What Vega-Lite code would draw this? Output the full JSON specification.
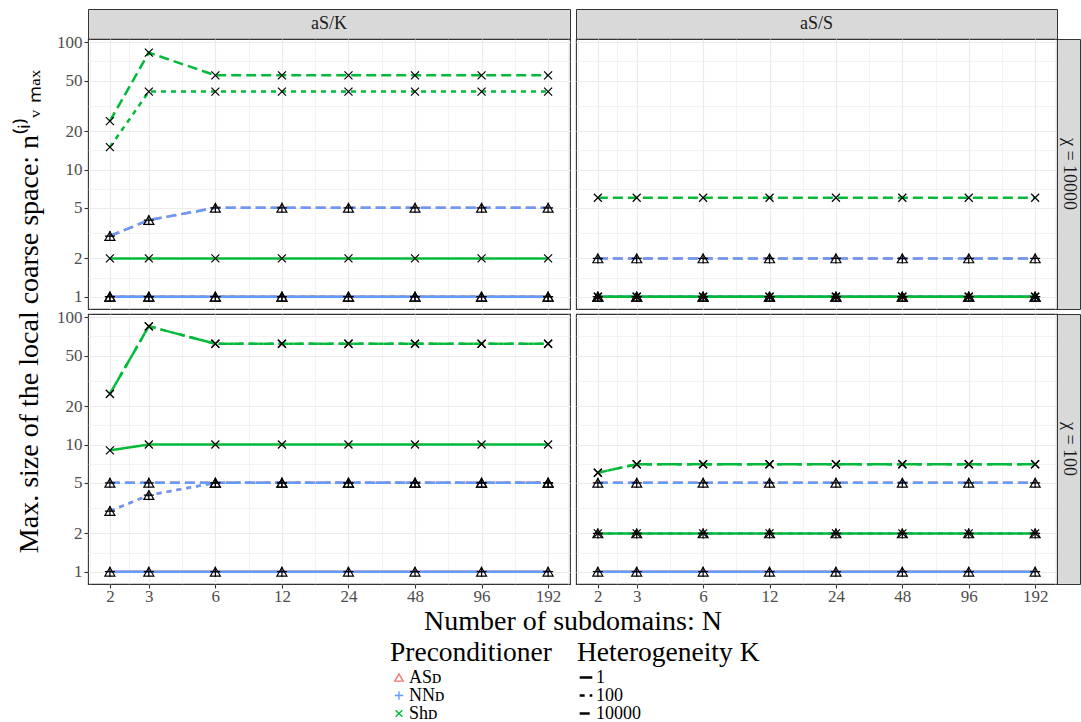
{
"$schema": "https://vega.github.io/schema/vega-lite/v6.json",
"background": "white",
"padding": {"left": 0, "top": 8, "right": 0, "bottom": 0},
"config": {
  "font": "Liberation Serif",
  "view": {"stroke": "#333333", "strokeWidth": 1.1},
  "legend": {"titleFont": "Liberation Serif", "labelFont": "Liberation Serif", "titleFontSize": 27.5, "titleLimit": 400, "titleFontWeight": "normal", "titleColor": "black", "labelFontSize": 18, "labelColor": "black", "rowPadding": 0, "titlePadding": 2, "labelOffset": 1}
},
"datasets": {"pts": [
{"col":"aS/K","row":"10000","prec":"ASᴅ","K":"1","N":2,"nv":1},{"col":"aS/K","row":"10000","prec":"ASᴅ","K":"1","N":3,"nv":1},{"col":"aS/K","row":"10000","prec":"ASᴅ","K":"1","N":6,"nv":1},{"col":"aS/K","row":"10000","prec":"ASᴅ","K":"1","N":12,"nv":1},{"col":"aS/K","row":"10000","prec":"ASᴅ","K":"1","N":24,"nv":1},{"col":"aS/K","row":"10000","prec":"ASᴅ","K":"1","N":48,"nv":1},{"col":"aS/K","row":"10000","prec":"ASᴅ","K":"1","N":96,"nv":1},{"col":"aS/K","row":"10000","prec":"ASᴅ","K":"1","N":192,"nv":1},
{"col":"aS/K","row":"10000","prec":"ASᴅ","K":"100","N":2,"nv":1},{"col":"aS/K","row":"10000","prec":"ASᴅ","K":"100","N":3,"nv":1},{"col":"aS/K","row":"10000","prec":"ASᴅ","K":"100","N":6,"nv":1},{"col":"aS/K","row":"10000","prec":"ASᴅ","K":"100","N":12,"nv":1},{"col":"aS/K","row":"10000","prec":"ASᴅ","K":"100","N":24,"nv":1},{"col":"aS/K","row":"10000","prec":"ASᴅ","K":"100","N":48,"nv":1},{"col":"aS/K","row":"10000","prec":"ASᴅ","K":"100","N":96,"nv":1},{"col":"aS/K","row":"10000","prec":"ASᴅ","K":"100","N":192,"nv":1},
{"col":"aS/K","row":"10000","prec":"ASᴅ","K":"10000","N":2,"nv":3},{"col":"aS/K","row":"10000","prec":"ASᴅ","K":"10000","N":3,"nv":4},{"col":"aS/K","row":"10000","prec":"ASᴅ","K":"10000","N":6,"nv":5},{"col":"aS/K","row":"10000","prec":"ASᴅ","K":"10000","N":12,"nv":5},{"col":"aS/K","row":"10000","prec":"ASᴅ","K":"10000","N":24,"nv":5},{"col":"aS/K","row":"10000","prec":"ASᴅ","K":"10000","N":48,"nv":5},{"col":"aS/K","row":"10000","prec":"ASᴅ","K":"10000","N":96,"nv":5},{"col":"aS/K","row":"10000","prec":"ASᴅ","K":"10000","N":192,"nv":5},
{"col":"aS/K","row":"10000","prec":"NNᴅ","K":"1","N":2,"nv":1},{"col":"aS/K","row":"10000","prec":"NNᴅ","K":"1","N":3,"nv":1},{"col":"aS/K","row":"10000","prec":"NNᴅ","K":"1","N":6,"nv":1},{"col":"aS/K","row":"10000","prec":"NNᴅ","K":"1","N":12,"nv":1},{"col":"aS/K","row":"10000","prec":"NNᴅ","K":"1","N":24,"nv":1},{"col":"aS/K","row":"10000","prec":"NNᴅ","K":"1","N":48,"nv":1},{"col":"aS/K","row":"10000","prec":"NNᴅ","K":"1","N":96,"nv":1},{"col":"aS/K","row":"10000","prec":"NNᴅ","K":"1","N":192,"nv":1},
{"col":"aS/K","row":"10000","prec":"NNᴅ","K":"100","N":2,"nv":1},{"col":"aS/K","row":"10000","prec":"NNᴅ","K":"100","N":3,"nv":1},{"col":"aS/K","row":"10000","prec":"NNᴅ","K":"100","N":6,"nv":1},{"col":"aS/K","row":"10000","prec":"NNᴅ","K":"100","N":12,"nv":1},{"col":"aS/K","row":"10000","prec":"NNᴅ","K":"100","N":24,"nv":1},{"col":"aS/K","row":"10000","prec":"NNᴅ","K":"100","N":48,"nv":1},{"col":"aS/K","row":"10000","prec":"NNᴅ","K":"100","N":96,"nv":1},{"col":"aS/K","row":"10000","prec":"NNᴅ","K":"100","N":192,"nv":1},
{"col":"aS/K","row":"10000","prec":"NNᴅ","K":"10000","N":2,"nv":3},{"col":"aS/K","row":"10000","prec":"NNᴅ","K":"10000","N":3,"nv":4},{"col":"aS/K","row":"10000","prec":"NNᴅ","K":"10000","N":6,"nv":5},{"col":"aS/K","row":"10000","prec":"NNᴅ","K":"10000","N":12,"nv":5},{"col":"aS/K","row":"10000","prec":"NNᴅ","K":"10000","N":24,"nv":5},{"col":"aS/K","row":"10000","prec":"NNᴅ","K":"10000","N":48,"nv":5},{"col":"aS/K","row":"10000","prec":"NNᴅ","K":"10000","N":96,"nv":5},{"col":"aS/K","row":"10000","prec":"NNᴅ","K":"10000","N":192,"nv":5},
{"col":"aS/K","row":"10000","prec":"Shᴅ","K":"1","N":2,"nv":2},{"col":"aS/K","row":"10000","prec":"Shᴅ","K":"1","N":3,"nv":2},{"col":"aS/K","row":"10000","prec":"Shᴅ","K":"1","N":6,"nv":2},{"col":"aS/K","row":"10000","prec":"Shᴅ","K":"1","N":12,"nv":2},{"col":"aS/K","row":"10000","prec":"Shᴅ","K":"1","N":24,"nv":2},{"col":"aS/K","row":"10000","prec":"Shᴅ","K":"1","N":48,"nv":2},{"col":"aS/K","row":"10000","prec":"Shᴅ","K":"1","N":96,"nv":2},{"col":"aS/K","row":"10000","prec":"Shᴅ","K":"1","N":192,"nv":2},
{"col":"aS/K","row":"10000","prec":"Shᴅ","K":"100","N":2,"nv":15},{"col":"aS/K","row":"10000","prec":"Shᴅ","K":"100","N":3,"nv":41},{"col":"aS/K","row":"10000","prec":"Shᴅ","K":"100","N":6,"nv":41},{"col":"aS/K","row":"10000","prec":"Shᴅ","K":"100","N":12,"nv":41},{"col":"aS/K","row":"10000","prec":"Shᴅ","K":"100","N":24,"nv":41},{"col":"aS/K","row":"10000","prec":"Shᴅ","K":"100","N":48,"nv":41},{"col":"aS/K","row":"10000","prec":"Shᴅ","K":"100","N":96,"nv":41},{"col":"aS/K","row":"10000","prec":"Shᴅ","K":"100","N":192,"nv":41},
{"col":"aS/K","row":"10000","prec":"Shᴅ","K":"10000","N":2,"nv":24},{"col":"aS/K","row":"10000","prec":"Shᴅ","K":"10000","N":3,"nv":83},{"col":"aS/K","row":"10000","prec":"Shᴅ","K":"10000","N":6,"nv":55},{"col":"aS/K","row":"10000","prec":"Shᴅ","K":"10000","N":12,"nv":55},{"col":"aS/K","row":"10000","prec":"Shᴅ","K":"10000","N":24,"nv":55},{"col":"aS/K","row":"10000","prec":"Shᴅ","K":"10000","N":48,"nv":55},{"col":"aS/K","row":"10000","prec":"Shᴅ","K":"10000","N":96,"nv":55},{"col":"aS/K","row":"10000","prec":"Shᴅ","K":"10000","N":192,"nv":55},

{"col":"aS/S","row":"10000","prec":"ASᴅ","K":"1","N":2,"nv":1},{"col":"aS/S","row":"10000","prec":"ASᴅ","K":"1","N":3,"nv":1},{"col":"aS/S","row":"10000","prec":"ASᴅ","K":"1","N":6,"nv":1},{"col":"aS/S","row":"10000","prec":"ASᴅ","K":"1","N":12,"nv":1},{"col":"aS/S","row":"10000","prec":"ASᴅ","K":"1","N":24,"nv":1},{"col":"aS/S","row":"10000","prec":"ASᴅ","K":"1","N":48,"nv":1},{"col":"aS/S","row":"10000","prec":"ASᴅ","K":"1","N":96,"nv":1},{"col":"aS/S","row":"10000","prec":"ASᴅ","K":"1","N":192,"nv":1},
{"col":"aS/S","row":"10000","prec":"ASᴅ","K":"100","N":2,"nv":1},{"col":"aS/S","row":"10000","prec":"ASᴅ","K":"100","N":3,"nv":1},{"col":"aS/S","row":"10000","prec":"ASᴅ","K":"100","N":6,"nv":1},{"col":"aS/S","row":"10000","prec":"ASᴅ","K":"100","N":12,"nv":1},{"col":"aS/S","row":"10000","prec":"ASᴅ","K":"100","N":24,"nv":1},{"col":"aS/S","row":"10000","prec":"ASᴅ","K":"100","N":48,"nv":1},{"col":"aS/S","row":"10000","prec":"ASᴅ","K":"100","N":96,"nv":1},{"col":"aS/S","row":"10000","prec":"ASᴅ","K":"100","N":192,"nv":1},
{"col":"aS/S","row":"10000","prec":"ASᴅ","K":"10000","N":2,"nv":2},{"col":"aS/S","row":"10000","prec":"ASᴅ","K":"10000","N":3,"nv":2},{"col":"aS/S","row":"10000","prec":"ASᴅ","K":"10000","N":6,"nv":2},{"col":"aS/S","row":"10000","prec":"ASᴅ","K":"10000","N":12,"nv":2},{"col":"aS/S","row":"10000","prec":"ASᴅ","K":"10000","N":24,"nv":2},{"col":"aS/S","row":"10000","prec":"ASᴅ","K":"10000","N":48,"nv":2},{"col":"aS/S","row":"10000","prec":"ASᴅ","K":"10000","N":96,"nv":2},{"col":"aS/S","row":"10000","prec":"ASᴅ","K":"10000","N":192,"nv":2},
{"col":"aS/S","row":"10000","prec":"NNᴅ","K":"1","N":2,"nv":1},{"col":"aS/S","row":"10000","prec":"NNᴅ","K":"1","N":3,"nv":1},{"col":"aS/S","row":"10000","prec":"NNᴅ","K":"1","N":6,"nv":1},{"col":"aS/S","row":"10000","prec":"NNᴅ","K":"1","N":12,"nv":1},{"col":"aS/S","row":"10000","prec":"NNᴅ","K":"1","N":24,"nv":1},{"col":"aS/S","row":"10000","prec":"NNᴅ","K":"1","N":48,"nv":1},{"col":"aS/S","row":"10000","prec":"NNᴅ","K":"1","N":96,"nv":1},{"col":"aS/S","row":"10000","prec":"NNᴅ","K":"1","N":192,"nv":1},
{"col":"aS/S","row":"10000","prec":"NNᴅ","K":"100","N":2,"nv":1},{"col":"aS/S","row":"10000","prec":"NNᴅ","K":"100","N":3,"nv":1},{"col":"aS/S","row":"10000","prec":"NNᴅ","K":"100","N":6,"nv":1},{"col":"aS/S","row":"10000","prec":"NNᴅ","K":"100","N":12,"nv":1},{"col":"aS/S","row":"10000","prec":"NNᴅ","K":"100","N":24,"nv":1},{"col":"aS/S","row":"10000","prec":"NNᴅ","K":"100","N":48,"nv":1},{"col":"aS/S","row":"10000","prec":"NNᴅ","K":"100","N":96,"nv":1},{"col":"aS/S","row":"10000","prec":"NNᴅ","K":"100","N":192,"nv":1},
{"col":"aS/S","row":"10000","prec":"NNᴅ","K":"10000","N":2,"nv":2},{"col":"aS/S","row":"10000","prec":"NNᴅ","K":"10000","N":3,"nv":2},{"col":"aS/S","row":"10000","prec":"NNᴅ","K":"10000","N":6,"nv":2},{"col":"aS/S","row":"10000","prec":"NNᴅ","K":"10000","N":12,"nv":2},{"col":"aS/S","row":"10000","prec":"NNᴅ","K":"10000","N":24,"nv":2},{"col":"aS/S","row":"10000","prec":"NNᴅ","K":"10000","N":48,"nv":2},{"col":"aS/S","row":"10000","prec":"NNᴅ","K":"10000","N":96,"nv":2},{"col":"aS/S","row":"10000","prec":"NNᴅ","K":"10000","N":192,"nv":2},
{"col":"aS/S","row":"10000","prec":"Shᴅ","K":"1","N":2,"nv":1},{"col":"aS/S","row":"10000","prec":"Shᴅ","K":"1","N":3,"nv":1},{"col":"aS/S","row":"10000","prec":"Shᴅ","K":"1","N":6,"nv":1},{"col":"aS/S","row":"10000","prec":"Shᴅ","K":"1","N":12,"nv":1},{"col":"aS/S","row":"10000","prec":"Shᴅ","K":"1","N":24,"nv":1},{"col":"aS/S","row":"10000","prec":"Shᴅ","K":"1","N":48,"nv":1},{"col":"aS/S","row":"10000","prec":"Shᴅ","K":"1","N":96,"nv":1},{"col":"aS/S","row":"10000","prec":"Shᴅ","K":"1","N":192,"nv":1},
{"col":"aS/S","row":"10000","prec":"Shᴅ","K":"100","N":2,"nv":1},{"col":"aS/S","row":"10000","prec":"Shᴅ","K":"100","N":3,"nv":1},{"col":"aS/S","row":"10000","prec":"Shᴅ","K":"100","N":6,"nv":1},{"col":"aS/S","row":"10000","prec":"Shᴅ","K":"100","N":12,"nv":1},{"col":"aS/S","row":"10000","prec":"Shᴅ","K":"100","N":24,"nv":1},{"col":"aS/S","row":"10000","prec":"Shᴅ","K":"100","N":48,"nv":1},{"col":"aS/S","row":"10000","prec":"Shᴅ","K":"100","N":96,"nv":1},{"col":"aS/S","row":"10000","prec":"Shᴅ","K":"100","N":192,"nv":1},
{"col":"aS/S","row":"10000","prec":"Shᴅ","K":"10000","N":2,"nv":6},{"col":"aS/S","row":"10000","prec":"Shᴅ","K":"10000","N":3,"nv":6},{"col":"aS/S","row":"10000","prec":"Shᴅ","K":"10000","N":6,"nv":6},{"col":"aS/S","row":"10000","prec":"Shᴅ","K":"10000","N":12,"nv":6},{"col":"aS/S","row":"10000","prec":"Shᴅ","K":"10000","N":24,"nv":6},{"col":"aS/S","row":"10000","prec":"Shᴅ","K":"10000","N":48,"nv":6},{"col":"aS/S","row":"10000","prec":"Shᴅ","K":"10000","N":96,"nv":6},{"col":"aS/S","row":"10000","prec":"Shᴅ","K":"10000","N":192,"nv":6},

{"col":"aS/K","row":"100","prec":"ASᴅ","K":"1","N":2,"nv":1},{"col":"aS/K","row":"100","prec":"ASᴅ","K":"1","N":3,"nv":1},{"col":"aS/K","row":"100","prec":"ASᴅ","K":"1","N":6,"nv":1},{"col":"aS/K","row":"100","prec":"ASᴅ","K":"1","N":12,"nv":1},{"col":"aS/K","row":"100","prec":"ASᴅ","K":"1","N":24,"nv":1},{"col":"aS/K","row":"100","prec":"ASᴅ","K":"1","N":48,"nv":1},{"col":"aS/K","row":"100","prec":"ASᴅ","K":"1","N":96,"nv":1},{"col":"aS/K","row":"100","prec":"ASᴅ","K":"1","N":192,"nv":1},
{"col":"aS/K","row":"100","prec":"ASᴅ","K":"100","N":2,"nv":3},{"col":"aS/K","row":"100","prec":"ASᴅ","K":"100","N":3,"nv":4},{"col":"aS/K","row":"100","prec":"ASᴅ","K":"100","N":6,"nv":5},{"col":"aS/K","row":"100","prec":"ASᴅ","K":"100","N":12,"nv":5},{"col":"aS/K","row":"100","prec":"ASᴅ","K":"100","N":24,"nv":5},{"col":"aS/K","row":"100","prec":"ASᴅ","K":"100","N":48,"nv":5},{"col":"aS/K","row":"100","prec":"ASᴅ","K":"100","N":96,"nv":5},{"col":"aS/K","row":"100","prec":"ASᴅ","K":"100","N":192,"nv":5},
{"col":"aS/K","row":"100","prec":"ASᴅ","K":"10000","N":2,"nv":5},{"col":"aS/K","row":"100","prec":"ASᴅ","K":"10000","N":3,"nv":5},{"col":"aS/K","row":"100","prec":"ASᴅ","K":"10000","N":6,"nv":5},{"col":"aS/K","row":"100","prec":"ASᴅ","K":"10000","N":12,"nv":5},{"col":"aS/K","row":"100","prec":"ASᴅ","K":"10000","N":24,"nv":5},{"col":"aS/K","row":"100","prec":"ASᴅ","K":"10000","N":48,"nv":5},{"col":"aS/K","row":"100","prec":"ASᴅ","K":"10000","N":96,"nv":5},{"col":"aS/K","row":"100","prec":"ASᴅ","K":"10000","N":192,"nv":5},
{"col":"aS/K","row":"100","prec":"NNᴅ","K":"1","N":2,"nv":1},{"col":"aS/K","row":"100","prec":"NNᴅ","K":"1","N":3,"nv":1},{"col":"aS/K","row":"100","prec":"NNᴅ","K":"1","N":6,"nv":1},{"col":"aS/K","row":"100","prec":"NNᴅ","K":"1","N":12,"nv":1},{"col":"aS/K","row":"100","prec":"NNᴅ","K":"1","N":24,"nv":1},{"col":"aS/K","row":"100","prec":"NNᴅ","K":"1","N":48,"nv":1},{"col":"aS/K","row":"100","prec":"NNᴅ","K":"1","N":96,"nv":1},{"col":"aS/K","row":"100","prec":"NNᴅ","K":"1","N":192,"nv":1},
{"col":"aS/K","row":"100","prec":"NNᴅ","K":"100","N":2,"nv":3},{"col":"aS/K","row":"100","prec":"NNᴅ","K":"100","N":3,"nv":4},{"col":"aS/K","row":"100","prec":"NNᴅ","K":"100","N":6,"nv":5},{"col":"aS/K","row":"100","prec":"NNᴅ","K":"100","N":12,"nv":5},{"col":"aS/K","row":"100","prec":"NNᴅ","K":"100","N":24,"nv":5},{"col":"aS/K","row":"100","prec":"NNᴅ","K":"100","N":48,"nv":5},{"col":"aS/K","row":"100","prec":"NNᴅ","K":"100","N":96,"nv":5},{"col":"aS/K","row":"100","prec":"NNᴅ","K":"100","N":192,"nv":5},
{"col":"aS/K","row":"100","prec":"NNᴅ","K":"10000","N":2,"nv":5},{"col":"aS/K","row":"100","prec":"NNᴅ","K":"10000","N":3,"nv":5},{"col":"aS/K","row":"100","prec":"NNᴅ","K":"10000","N":6,"nv":5},{"col":"aS/K","row":"100","prec":"NNᴅ","K":"10000","N":12,"nv":5},{"col":"aS/K","row":"100","prec":"NNᴅ","K":"10000","N":24,"nv":5},{"col":"aS/K","row":"100","prec":"NNᴅ","K":"10000","N":48,"nv":5},{"col":"aS/K","row":"100","prec":"NNᴅ","K":"10000","N":96,"nv":5},{"col":"aS/K","row":"100","prec":"NNᴅ","K":"10000","N":192,"nv":5},
{"col":"aS/K","row":"100","prec":"Shᴅ","K":"1","N":2,"nv":9},{"col":"aS/K","row":"100","prec":"Shᴅ","K":"1","N":3,"nv":10},{"col":"aS/K","row":"100","prec":"Shᴅ","K":"1","N":6,"nv":10},{"col":"aS/K","row":"100","prec":"Shᴅ","K":"1","N":12,"nv":10},{"col":"aS/K","row":"100","prec":"Shᴅ","K":"1","N":24,"nv":10},{"col":"aS/K","row":"100","prec":"Shᴅ","K":"1","N":48,"nv":10},{"col":"aS/K","row":"100","prec":"Shᴅ","K":"1","N":96,"nv":10},{"col":"aS/K","row":"100","prec":"Shᴅ","K":"1","N":192,"nv":10},
{"col":"aS/K","row":"100","prec":"Shᴅ","K":"100","N":2,"nv":25},{"col":"aS/K","row":"100","prec":"Shᴅ","K":"100","N":3,"nv":85},{"col":"aS/K","row":"100","prec":"Shᴅ","K":"100","N":6,"nv":62},{"col":"aS/K","row":"100","prec":"Shᴅ","K":"100","N":12,"nv":62},{"col":"aS/K","row":"100","prec":"Shᴅ","K":"100","N":24,"nv":62},{"col":"aS/K","row":"100","prec":"Shᴅ","K":"100","N":48,"nv":62},{"col":"aS/K","row":"100","prec":"Shᴅ","K":"100","N":96,"nv":62},{"col":"aS/K","row":"100","prec":"Shᴅ","K":"100","N":192,"nv":62},
{"col":"aS/K","row":"100","prec":"Shᴅ","K":"10000","N":2,"nv":25},{"col":"aS/K","row":"100","prec":"Shᴅ","K":"10000","N":3,"nv":85},{"col":"aS/K","row":"100","prec":"Shᴅ","K":"10000","N":6,"nv":62},{"col":"aS/K","row":"100","prec":"Shᴅ","K":"10000","N":12,"nv":62},{"col":"aS/K","row":"100","prec":"Shᴅ","K":"10000","N":24,"nv":62},{"col":"aS/K","row":"100","prec":"Shᴅ","K":"10000","N":48,"nv":62},{"col":"aS/K","row":"100","prec":"Shᴅ","K":"10000","N":96,"nv":62},{"col":"aS/K","row":"100","prec":"Shᴅ","K":"10000","N":192,"nv":62},

{"col":"aS/S","row":"100","prec":"ASᴅ","K":"1","N":2,"nv":1},{"col":"aS/S","row":"100","prec":"ASᴅ","K":"1","N":3,"nv":1},{"col":"aS/S","row":"100","prec":"ASᴅ","K":"1","N":6,"nv":1},{"col":"aS/S","row":"100","prec":"ASᴅ","K":"1","N":12,"nv":1},{"col":"aS/S","row":"100","prec":"ASᴅ","K":"1","N":24,"nv":1},{"col":"aS/S","row":"100","prec":"ASᴅ","K":"1","N":48,"nv":1},{"col":"aS/S","row":"100","prec":"ASᴅ","K":"1","N":96,"nv":1},{"col":"aS/S","row":"100","prec":"ASᴅ","K":"1","N":192,"nv":1},
{"col":"aS/S","row":"100","prec":"ASᴅ","K":"100","N":2,"nv":2},{"col":"aS/S","row":"100","prec":"ASᴅ","K":"100","N":3,"nv":2},{"col":"aS/S","row":"100","prec":"ASᴅ","K":"100","N":6,"nv":2},{"col":"aS/S","row":"100","prec":"ASᴅ","K":"100","N":12,"nv":2},{"col":"aS/S","row":"100","prec":"ASᴅ","K":"100","N":24,"nv":2},{"col":"aS/S","row":"100","prec":"ASᴅ","K":"100","N":48,"nv":2},{"col":"aS/S","row":"100","prec":"ASᴅ","K":"100","N":96,"nv":2},{"col":"aS/S","row":"100","prec":"ASᴅ","K":"100","N":192,"nv":2},
{"col":"aS/S","row":"100","prec":"ASᴅ","K":"10000","N":2,"nv":5},{"col":"aS/S","row":"100","prec":"ASᴅ","K":"10000","N":3,"nv":5},{"col":"aS/S","row":"100","prec":"ASᴅ","K":"10000","N":6,"nv":5},{"col":"aS/S","row":"100","prec":"ASᴅ","K":"10000","N":12,"nv":5},{"col":"aS/S","row":"100","prec":"ASᴅ","K":"10000","N":24,"nv":5},{"col":"aS/S","row":"100","prec":"ASᴅ","K":"10000","N":48,"nv":5},{"col":"aS/S","row":"100","prec":"ASᴅ","K":"10000","N":96,"nv":5},{"col":"aS/S","row":"100","prec":"ASᴅ","K":"10000","N":192,"nv":5},
{"col":"aS/S","row":"100","prec":"NNᴅ","K":"1","N":2,"nv":1},{"col":"aS/S","row":"100","prec":"NNᴅ","K":"1","N":3,"nv":1},{"col":"aS/S","row":"100","prec":"NNᴅ","K":"1","N":6,"nv":1},{"col":"aS/S","row":"100","prec":"NNᴅ","K":"1","N":12,"nv":1},{"col":"aS/S","row":"100","prec":"NNᴅ","K":"1","N":24,"nv":1},{"col":"aS/S","row":"100","prec":"NNᴅ","K":"1","N":48,"nv":1},{"col":"aS/S","row":"100","prec":"NNᴅ","K":"1","N":96,"nv":1},{"col":"aS/S","row":"100","prec":"NNᴅ","K":"1","N":192,"nv":1},
{"col":"aS/S","row":"100","prec":"NNᴅ","K":"100","N":2,"nv":2},{"col":"aS/S","row":"100","prec":"NNᴅ","K":"100","N":3,"nv":2},{"col":"aS/S","row":"100","prec":"NNᴅ","K":"100","N":6,"nv":2},{"col":"aS/S","row":"100","prec":"NNᴅ","K":"100","N":12,"nv":2},{"col":"aS/S","row":"100","prec":"NNᴅ","K":"100","N":24,"nv":2},{"col":"aS/S","row":"100","prec":"NNᴅ","K":"100","N":48,"nv":2},{"col":"aS/S","row":"100","prec":"NNᴅ","K":"100","N":96,"nv":2},{"col":"aS/S","row":"100","prec":"NNᴅ","K":"100","N":192,"nv":2},
{"col":"aS/S","row":"100","prec":"NNᴅ","K":"10000","N":2,"nv":5},{"col":"aS/S","row":"100","prec":"NNᴅ","K":"10000","N":3,"nv":5},{"col":"aS/S","row":"100","prec":"NNᴅ","K":"10000","N":6,"nv":5},{"col":"aS/S","row":"100","prec":"NNᴅ","K":"10000","N":12,"nv":5},{"col":"aS/S","row":"100","prec":"NNᴅ","K":"10000","N":24,"nv":5},{"col":"aS/S","row":"100","prec":"NNᴅ","K":"10000","N":48,"nv":5},{"col":"aS/S","row":"100","prec":"NNᴅ","K":"10000","N":96,"nv":5},{"col":"aS/S","row":"100","prec":"NNᴅ","K":"10000","N":192,"nv":5},
{"col":"aS/S","row":"100","prec":"Shᴅ","K":"1","N":2,"nv":2},{"col":"aS/S","row":"100","prec":"Shᴅ","K":"1","N":3,"nv":2},{"col":"aS/S","row":"100","prec":"Shᴅ","K":"1","N":6,"nv":2},{"col":"aS/S","row":"100","prec":"Shᴅ","K":"1","N":12,"nv":2},{"col":"aS/S","row":"100","prec":"Shᴅ","K":"1","N":24,"nv":2},{"col":"aS/S","row":"100","prec":"Shᴅ","K":"1","N":48,"nv":2},{"col":"aS/S","row":"100","prec":"Shᴅ","K":"1","N":96,"nv":2},{"col":"aS/S","row":"100","prec":"Shᴅ","K":"1","N":192,"nv":2},
{"col":"aS/S","row":"100","prec":"Shᴅ","K":"100","N":2,"nv":6},{"col":"aS/S","row":"100","prec":"Shᴅ","K":"100","N":3,"nv":7},{"col":"aS/S","row":"100","prec":"Shᴅ","K":"100","N":6,"nv":7},{"col":"aS/S","row":"100","prec":"Shᴅ","K":"100","N":12,"nv":7},{"col":"aS/S","row":"100","prec":"Shᴅ","K":"100","N":24,"nv":7},{"col":"aS/S","row":"100","prec":"Shᴅ","K":"100","N":48,"nv":7},{"col":"aS/S","row":"100","prec":"Shᴅ","K":"100","N":96,"nv":7},{"col":"aS/S","row":"100","prec":"Shᴅ","K":"100","N":192,"nv":7},
{"col":"aS/S","row":"100","prec":"Shᴅ","K":"10000","N":2,"nv":6},{"col":"aS/S","row":"100","prec":"Shᴅ","K":"10000","N":3,"nv":7},{"col":"aS/S","row":"100","prec":"Shᴅ","K":"10000","N":6,"nv":7},{"col":"aS/S","row":"100","prec":"Shᴅ","K":"10000","N":12,"nv":7},{"col":"aS/S","row":"100","prec":"Shᴅ","K":"10000","N":24,"nv":7},{"col":"aS/S","row":"100","prec":"Shᴅ","K":"10000","N":48,"nv":7},{"col":"aS/S","row":"100","prec":"Shᴅ","K":"10000","N":96,"nv":7},{"col":"aS/S","row":"100","prec":"Shᴅ","K":"10000","N":192,"nv":7}
]},
"columns": 6,
"spacing": 0,
"bounds": "flush",
"align": "each",
"resolve": {"scale": {"color": "shared", "shape": "shared", "strokeDash": "shared"}, "legend": {"color": "shared", "shape": "shared", "strokeDash": "shared"}},
"concat": [
  {"data": {"values": []}, "mark": "point", "width": 60, "height": 30, "view": {"stroke": null, "fill": "white"}},
  {"data": {"values": []}, "mark": "point", "width": 28, "height": 30, "view": {"stroke": null}},
  {"data": {"values": [{"t": "aS/K"}]}, "width": 482, "height": 30, "view": {"fill": "#D9D9D9", "stroke": "#333333"},
   "mark": {"type": "text", "fontSize": 18, "color": "#1A1A1A"}, "encoding": {"text": {"field": "t"}}},
  {"data": {"values": []}, "mark": "point", "width": 6, "height": 30, "view": {"stroke": null}},
  {"data": {"values": [{"t": "aS/S"}]}, "width": 481, "height": 30, "view": {"fill": "#D9D9D9", "stroke": "#333333"},
   "mark": {"type": "text", "fontSize": 18, "color": "#1A1A1A"}, "encoding": {"text": {"field": "t"}}},
  {"data": {"values": []}, "mark": "point", "width": 23, "height": 30, "view": {"stroke": null}},

  {"data": {"values": []}, "mark": "point", "width": 60, "height": 270, "view": {"stroke": null}},
  {"data": {"values": []}, "mark": "point", "width": 28, "height": 270, "view": {"stroke": null}},
  {"data": {"name": "pts"}, "transform": [{"filter": "datum.col === 'aS/K' && datum.row === '10000'"}],
   "width": 482, "height": 270,
   "encoding": {
     "x": {"field": "N", "type": "quantitative", "scale": {"type": "log", "base": 2, "domain": [1.592, 241.2], "nice": false, "zero": false},
           "axis": {"title": null, "values": [1.633,2,2.449,3,4.243,6,8.485,12,16.97,24,33.94,48,67.88,96,135.8,192,235.2], "labels": false, "ticks": false, "domain": false, "gridColor": "#EBEBEB", "gridWidth": {"condition": {"test": "indexof([2,3,6,12,24,48,96,192], datum.value) >= 0", "value": 1.2}, "value": 0.6}}},
     "y": {"field": "nv", "type": "quantitative", "scale": {"type": "log", "domain": [0.8007, 106.2], "nice": false, "zero": false},
           "axis": {"title": null, "values": [1,1.414,2,3.162,5,7.071,10,14.14,20,31.62,50,70.71,100], "labelExpr": "indexof([1,2,5,10,20,50,100], datum.value) >= 0 ? '' + datum.value : ''", "labelFont": "Liberation Serif", "labelFontSize": 17, "labelColor": "#4D4D4D", "labelPadding": 2, "labelOverlap": false, "labelFlush": false, "labelBound": false, "domain": false, "tickSize": 4, "tickWidth": 1.1, "tickColor": {"condition": {"test": "indexof([1,2,5,10,20,50,100], datum.value) >= 0", "value": "#333333"}, "value": "rgba(0,0,0,0)"}, "gridColor": "#EBEBEB", "gridWidth": {"condition": {"test": "indexof([1,2,5,10,20,50,100], datum.value) >= 0", "value": 1.2}, "value": 0.6}}}
   },
   "layer": [
     {"mark": {"type": "line", "strokeWidth": 2.5},
      "encoding": {
        "color": {"field": "prec", "type": "nominal", "title": "Preconditioner", "scale": {"domain": ["ASᴅ","NNᴅ","Shᴅ"], "range": ["#F8766D","#619CFF","#00BA38"]}, "legend": {"orient": "none", "legendX": 390, "legendY": 630, "symbolSize": 70, "symbolStrokeWidth": 1.4}},
        "strokeDash": {"field": "K", "type": "nominal", "title": "Heterogeneity K", "scale": {"domain": ["1","100","10000"], "range": [[1,0],[5,5],[10,5]]}, "legend": {"orient": "none", "legendX": 577, "legendY": 630, "symbolType": "stroke", "symbolSize": 160, "symbolStrokeWidth": 2.5, "symbolStrokeColor": "black"}}}},
     {"mark": {"type": "point", "filled": false, "color": "black", "strokeWidth": 1.2, "size": 100, "opacity": 1},
      "encoding": {"shape": {"field": "prec", "type": "nominal", "title": "Preconditioner", "scale": {"domain": ["ASᴅ","NNᴅ","Shᴅ"], "range": ["triangle-up","M-1,0L1,0M0,-1L0,1","M-0.8,-0.8L0.8,0.8M-0.8,0.8L0.8,-0.8"]}, "legend": {"orient": "none", "legendX": 390, "legendY": 630, "symbolSize": 70, "symbolStrokeWidth": 1.4}}}}
   ]},
  {"data": {"values": []}, "mark": "point", "width": 6, "height": 270, "view": {"stroke": null}},
  {"data": {"name": "pts"}, "transform": [{"filter": "datum.col === 'aS/S' && datum.row === '10000'"}],
   "width": 481, "height": 270,
   "encoding": {
     "x": {"field": "N", "type": "quantitative", "scale": {"type": "log", "base": 2, "domain": [1.592, 241.2], "nice": false, "zero": false},
           "axis": {"title": null, "values": [1.633,2,2.449,3,4.243,6,8.485,12,16.97,24,33.94,48,67.88,96,135.8,192,235.2], "labels": false, "ticks": false, "domain": false, "gridColor": "#EBEBEB", "gridWidth": {"condition": {"test": "indexof([2,3,6,12,24,48,96,192], datum.value) >= 0", "value": 1.2}, "value": 0.6}}},
     "y": {"field": "nv", "type": "quantitative", "scale": {"type": "log", "domain": [0.8007, 106.2], "nice": false, "zero": false},
           "axis": {"title": null, "values": [1,1.414,2,3.162,5,7.071,10,14.14,20,31.62,50,70.71,100], "labels": false, "ticks": false, "domain": false, "gridColor": "#EBEBEB", "gridWidth": {"condition": {"test": "indexof([1,2,5,10,20,50,100], datum.value) >= 0", "value": 1.2}, "value": 0.6}}}
   },
   "layer": [
     {"mark": {"type": "line", "strokeWidth": 2.5},
      "encoding": {
        "color": {"field": "prec", "type": "nominal", "title": "Preconditioner", "scale": {"domain": ["ASᴅ","NNᴅ","Shᴅ"], "range": ["#F8766D","#619CFF","#00BA38"]}, "legend": {"orient": "none", "legendX": 390, "legendY": 630, "symbolSize": 70, "symbolStrokeWidth": 1.4}},
        "strokeDash": {"field": "K", "type": "nominal", "title": "Heterogeneity K", "scale": {"domain": ["1","100","10000"], "range": [[1,0],[5,5],[10,5]]}, "legend": {"orient": "none", "legendX": 577, "legendY": 630, "symbolType": "stroke", "symbolSize": 160, "symbolStrokeWidth": 2.5, "symbolStrokeColor": "black"}}}},
     {"mark": {"type": "point", "filled": false, "color": "black", "strokeWidth": 1.2, "size": 100, "opacity": 1},
      "encoding": {"shape": {"field": "prec", "type": "nominal", "title": "Preconditioner", "scale": {"domain": ["ASᴅ","NNᴅ","Shᴅ"], "range": ["triangle-up","M-1,0L1,0M0,-1L0,1","M-0.8,-0.8L0.8,0.8M-0.8,0.8L0.8,-0.8"]}, "legend": {"orient": "none", "legendX": 390, "legendY": 630, "symbolSize": 70, "symbolStrokeWidth": 1.4}}}}
   ]},
  {"data": {"values": [{"t": "χ = 10000"}]}, "width": 23, "height": 270, "view": {"fill": "#D9D9D9", "stroke": "#333333"},
   "mark": {"type": "text", "angle": 90, "fontSize": 18, "color": "#1A1A1A"}, "encoding": {"text": {"field": "t"}}},

  {"data": {"values": [{"t": "Max. size of the local coarse space: n⁽ⁱ⁾ᵥ ₘₐₓ"}]},
   "width": 60, "height": 5, "view": {"stroke": null},
   "mark": {"type": "text", "angle": 270, "fontSize": 28, "font": "Liberation Serif", "color": "black"},
   "encoding": {"text": {"field": "t"}}},
  {"data": {"values": []}, "mark": "point", "width": 28, "height": 5, "view": {"stroke": null}},
  {"data": {"values": []}, "mark": "point", "width": 482, "height": 5, "view": {"stroke": null}},
  {"data": {"values": []}, "mark": "point", "width": 6, "height": 5, "view": {"stroke": null}},
  {"data": {"values": []}, "mark": "point", "width": 481, "height": 5, "view": {"stroke": null}},
  {"data": {"values": []}, "mark": "point", "width": 23, "height": 5, "view": {"stroke": null}},

  {"data": {"values": []}, "mark": "point", "width": 60, "height": 270, "view": {"stroke": null}},
  {"data": {"values": []}, "mark": "point", "width": 28, "height": 270, "view": {"stroke": null}},
  {"data": {"name": "pts"}, "transform": [{"filter": "datum.col === 'aS/K' && datum.row === '100'"}],
   "width": 482, "height": 270,
   "encoding": {
     "x": {"field": "N", "type": "quantitative", "scale": {"type": "log", "base": 2, "domain": [1.592, 241.2], "nice": false, "zero": false},
           "axis": {"title": null, "values": [1.633,2,2.449,3,4.243,6,8.485,12,16.97,24,33.94,48,67.88,96,135.8,192,235.2], "labelExpr": "indexof([2,3,6,12,24,48,96,192], datum.value) >= 0 ? '' + datum.value : ''", "labelFont": "Liberation Serif", "labelFontSize": 17, "labelColor": "#4D4D4D", "labelPadding": 0, "labelOverlap": false, "labelFlush": false, "labelBound": false, "domain": false, "tickSize": 4, "tickWidth": 1.1, "tickColor": {"condition": {"test": "indexof([2,3,6,12,24,48,96,192], datum.value) >= 0", "value": "#333333"}, "value": "rgba(0,0,0,0)"}, "gridColor": "#EBEBEB", "gridWidth": {"condition": {"test": "indexof([2,3,6,12,24,48,96,192], datum.value) >= 0", "value": 1.2}, "value": 0.6}}},
     "y": {"field": "nv", "type": "quantitative", "scale": {"type": "log", "domain": [0.8007, 106.2], "nice": false, "zero": false},
           "axis": {"title": null, "values": [1,1.414,2,3.162,5,7.071,10,14.14,20,31.62,50,70.71,100], "labelExpr": "indexof([1,2,5,10,20,50,100], datum.value) >= 0 ? '' + datum.value : ''", "labelFont": "Liberation Serif", "labelFontSize": 17, "labelColor": "#4D4D4D", "labelPadding": 2, "labelOverlap": false, "labelFlush": false, "labelBound": false, "domain": false, "tickSize": 4, "tickWidth": 1.1, "tickColor": {"condition": {"test": "indexof([1,2,5,10,20,50,100], datum.value) >= 0", "value": "#333333"}, "value": "rgba(0,0,0,0)"}, "gridColor": "#EBEBEB", "gridWidth": {"condition": {"test": "indexof([1,2,5,10,20,50,100], datum.value) >= 0", "value": 1.2}, "value": 0.6}}}
   },
   "layer": [
     {"mark": {"type": "line", "strokeWidth": 2.5},
      "encoding": {
        "color": {"field": "prec", "type": "nominal", "title": "Preconditioner", "scale": {"domain": ["ASᴅ","NNᴅ","Shᴅ"], "range": ["#F8766D","#619CFF","#00BA38"]}, "legend": {"orient": "none", "legendX": 390, "legendY": 630, "symbolSize": 70, "symbolStrokeWidth": 1.4}},
        "strokeDash": {"field": "K", "type": "nominal", "title": "Heterogeneity K", "scale": {"domain": ["1","100","10000"], "range": [[1,0],[5,5],[10,5]]}, "legend": {"orient": "none", "legendX": 577, "legendY": 630, "symbolType": "stroke", "symbolSize": 160, "symbolStrokeWidth": 2.5, "symbolStrokeColor": "black"}}}},
     {"mark": {"type": "point", "filled": false, "color": "black", "strokeWidth": 1.2, "size": 100, "opacity": 1},
      "encoding": {"shape": {"field": "prec", "type": "nominal", "title": "Preconditioner", "scale": {"domain": ["ASᴅ","NNᴅ","Shᴅ"], "range": ["triangle-up","M-1,0L1,0M0,-1L0,1","M-0.8,-0.8L0.8,0.8M-0.8,0.8L0.8,-0.8"]}, "legend": {"orient": "none", "legendX": 390, "legendY": 630, "symbolSize": 70, "symbolStrokeWidth": 1.4}}}}
   ]},
  {"data": {"values": []}, "mark": "point", "width": 6, "height": 270, "view": {"stroke": null}},
  {"data": {"name": "pts"}, "transform": [{"filter": "datum.col === 'aS/S' && datum.row === '100'"}],
   "width": 481, "height": 270,
   "encoding": {
     "x": {"field": "N", "type": "quantitative", "scale": {"type": "log", "base": 2, "domain": [1.592, 241.2], "nice": false, "zero": false},
           "axis": {"title": null, "values": [1.633,2,2.449,3,4.243,6,8.485,12,16.97,24,33.94,48,67.88,96,135.8,192,235.2], "labelExpr": "indexof([2,3,6,12,24,48,96,192], datum.value) >= 0 ? '' + datum.value : ''", "labelFont": "Liberation Serif", "labelFontSize": 17, "labelColor": "#4D4D4D", "labelPadding": 0, "labelOverlap": false, "labelFlush": false, "labelBound": false, "domain": false, "tickSize": 4, "tickWidth": 1.1, "tickColor": {"condition": {"test": "indexof([2,3,6,12,24,48,96,192], datum.value) >= 0", "value": "#333333"}, "value": "rgba(0,0,0,0)"}, "gridColor": "#EBEBEB", "gridWidth": {"condition": {"test": "indexof([2,3,6,12,24,48,96,192], datum.value) >= 0", "value": 1.2}, "value": 0.6}}},
     "y": {"field": "nv", "type": "quantitative", "scale": {"type": "log", "domain": [0.8007, 106.2], "nice": false, "zero": false},
           "axis": {"title": null, "values": [1,1.414,2,3.162,5,7.071,10,14.14,20,31.62,50,70.71,100], "labels": false, "ticks": false, "domain": false, "gridColor": "#EBEBEB", "gridWidth": {"condition": {"test": "indexof([1,2,5,10,20,50,100], datum.value) >= 0", "value": 1.2}, "value": 0.6}}}
   },
   "layer": [
     {"mark": {"type": "line", "strokeWidth": 2.5},
      "encoding": {
        "color": {"field": "prec", "type": "nominal", "title": "Preconditioner", "scale": {"domain": ["ASᴅ","NNᴅ","Shᴅ"], "range": ["#F8766D","#619CFF","#00BA38"]}, "legend": {"orient": "none", "legendX": 390, "legendY": 630, "symbolSize": 70, "symbolStrokeWidth": 1.4}},
        "strokeDash": {"field": "K", "type": "nominal", "title": "Heterogeneity K", "scale": {"domain": ["1","100","10000"], "range": [[1,0],[5,5],[10,5]]}, "legend": {"orient": "none", "legendX": 577, "legendY": 630, "symbolType": "stroke", "symbolSize": 160, "symbolStrokeWidth": 2.5, "symbolStrokeColor": "black"}}}},
     {"mark": {"type": "point", "filled": false, "color": "black", "strokeWidth": 1.2, "size": 100, "opacity": 1},
      "encoding": {"shape": {"field": "prec", "type": "nominal", "title": "Preconditioner", "scale": {"domain": ["ASᴅ","NNᴅ","Shᴅ"], "range": ["triangle-up","M-1,0L1,0M0,-1L0,1","M-0.8,-0.8L0.8,0.8M-0.8,0.8L0.8,-0.8"]}, "legend": {"orient": "none", "legendX": 390, "legendY": 630, "symbolSize": 70, "symbolStrokeWidth": 1.4}}}}
   ]},
  {"data": {"values": [{"t": "χ = 100"}]}, "width": 23, "height": 270, "view": {"fill": "#D9D9D9", "stroke": "#333333"},
   "mark": {"type": "text", "angle": 90, "fontSize": 18, "color": "#1A1A1A"}, "encoding": {"text": {"field": "t"}}},

  {"data": {"values": []}, "mark": "point", "width": 60, "height": 76, "view": {"stroke": null}},
  {"data": {"values": []}, "mark": "point", "width": 28, "height": 76, "view": {"stroke": null}},
  {"data": {"values": []}, "mark": "point", "width": 482, "height": 76, "view": {"stroke": null}},
  {"data": {"values": [{"t": "Number of subdomains: N"}]}, "width": 6, "height": 76, "view": {"stroke": null},
   "mark": {"type": "text", "fontSize": 28, "color": "black"}, "encoding": {"text": {"field": "t"}}}
]
}
